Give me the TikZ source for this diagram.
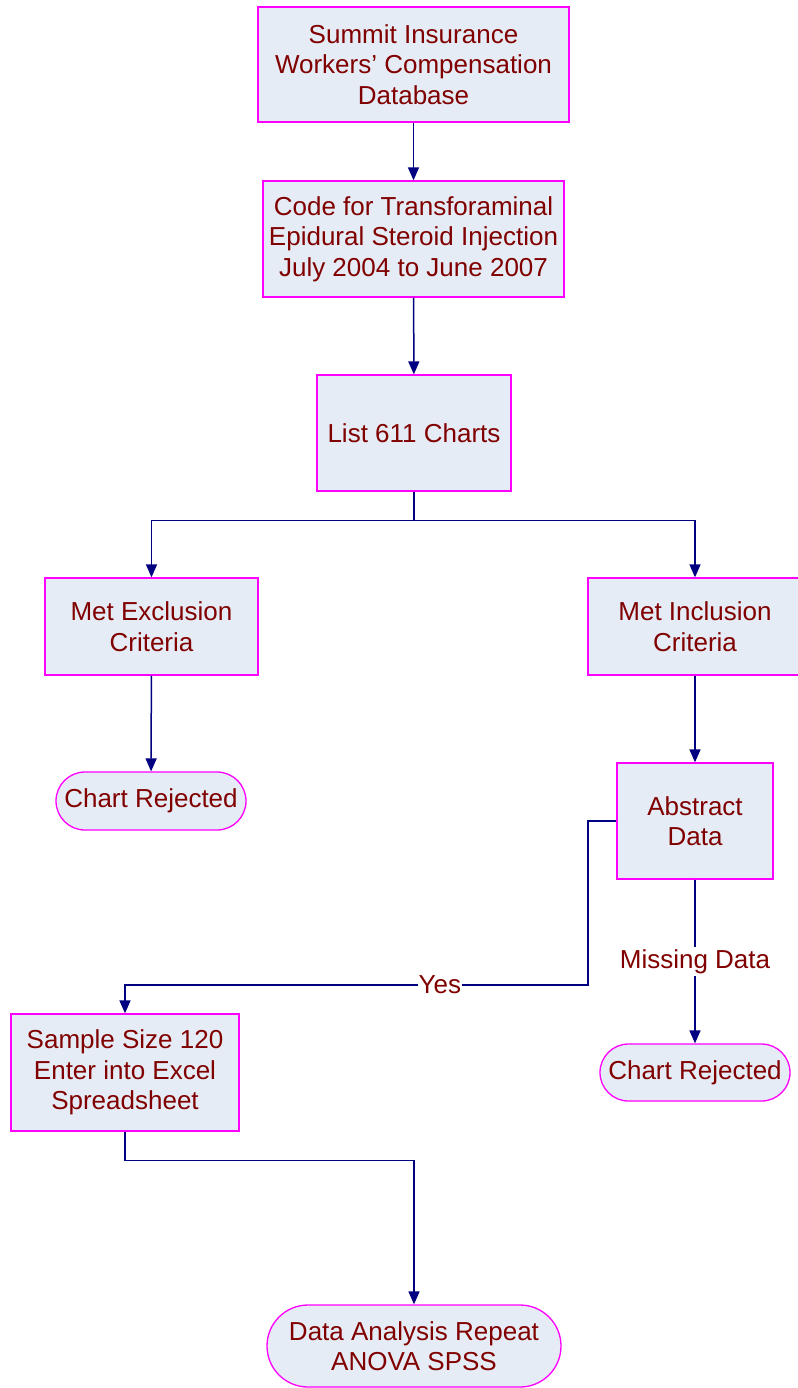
\documentclass[tikz,border=0pt]{standalone}
\usepackage{fontspec}
\setmainfont{Liberation Sans}
\usetikzlibrary{arrows.meta}
\usetikzlibrary{shapes.misc}
\definecolor{boxfill}{RGB}{230,236,246}
\definecolor{boxline}{RGB}{255,0,255}
\definecolor{flowline}{RGB}{0,0,128}
\definecolor{flowtext}{RGB}{128,0,0}

\begin{document}
\begin{tikzpicture}[x=1pt,y=-1pt,
  every node/.style={font=\fontsize{26}{30.5}\selectfont,text=flowtext},
  stepbox/.style={draw=boxline,fill=boxfill,line width=1.3pt,align=center,inner sep=0pt},
  endbox/.style={stepbox,rounded rectangle},
  flow/.style={draw=flowline,line width=1.5pt,-{Triangle[width=11pt,length=13pt]}}]
  \useasboundingbox (0,0) rectangle (797,1388);
  \node[stepbox,minimum width=311pt,minimum height=115pt]
    (base) at (413.5,64.5) {Summit Insurance\\Workers’ Compensation\\Database};
  \node[stepbox,minimum width=301pt,minimum height=116pt]
    (code) at (413.5,239) {Code for Transforaminal\\Epidural Steroid Injection\\July 2004 to June 2007};
  \node[stepbox,minimum width=194pt,minimum height=116pt]
    (list) at (414,433) {List 611 Charts};
  \node[stepbox,minimum width=213pt,minimum height=97pt]
    (excl) at (151.5,626.5) {Met Exclusion\\Criteria};
  \node[stepbox,minimum width=214pt,minimum height=97pt]
    (incl) at (695,626.5) {Met Inclusion\\Criteria};
  \node[endbox,minimum width=190pt,minimum height=58pt]
    (rejleft) at (151,801) {Chart Rejected};
  \node[stepbox,minimum width=156pt,minimum height=116pt]
    (abst) at (695,821) {Abstract\\Data};
  \node[stepbox,minimum width=228pt,minimum height=117pt]
    (sample) at (125,1072.5) {Sample Size 120\\Enter into Excel\\Spreadsheet};
  \node[endbox,minimum width=190pt,minimum height=57pt]
    (rejright) at (695,1072.5) {Chart Rejected};
  \node[endbox,minimum width=294pt,minimum height=82pt]
    (anova) at (414,1346) {Data Analysis Repeat\\ANOVA SPSS};
  \coordinate (yesbend) at (588,985);

  \draw[flow] (base) -- (code);
  \draw[flow] (code) -- (list);
  \draw[flow] (list.south) -- ++(0,29) -| (excl.north);
  \draw[flow] (list.south) -- ++(0,29) -| (incl.north);
  \draw[flow] (excl) -- (rejleft);
  \draw[flow] (incl) -- (abst);
  \draw[flow] (abst.west) -| (yesbend)
    -| node[pos=0.16,fill=white,inner sep=1pt] {Yes} (sample.north);
  \draw[flow] (abst.south) --
    node[fill=white,inner sep=2pt] {Missing Data} (rejright.north);
  \draw[flow] (sample.south) -- ++(0,29) -| (anova.north);
\end{tikzpicture}
\end{document}
